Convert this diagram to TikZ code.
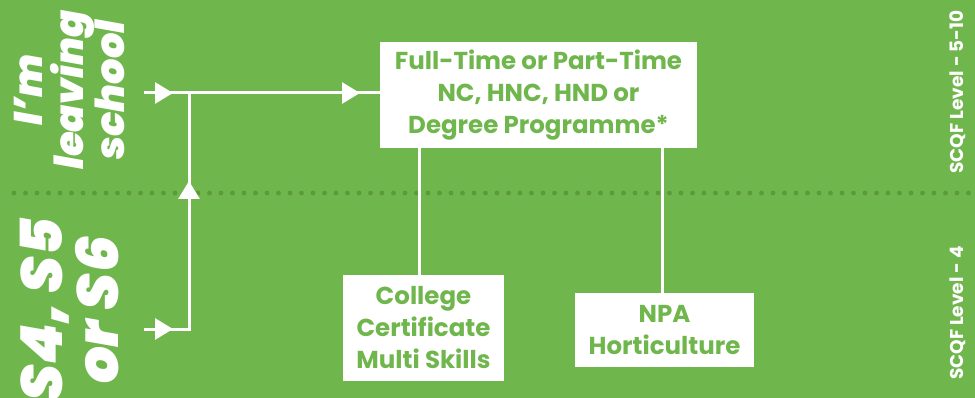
\documentclass[tikz,border=0pt]{standalone}
\usepackage{fontspec}
\setmainfont{Poppins}
\newfontfamily\heavy{Poppins}[UprightFont=* Black Italic]
\usetikzlibrary{arrows.meta}
\definecolor{bg}{HTML}{6FB64C}
\definecolor{dotc}{HTML}{5A9A3C}
\tikzset{
  conn/.style={draw=white, line width=3pt},
  tip/.style={conn, -{Triangle[length=18pt,width=21pt]}},
  box/.style={fill=white, text=bg, font=\fontsize{24.5}{32}\selectfont\bfseries, align=center, inner sep=0pt},
  bigtxt/.style={text=white, rotate=90, align=center},
  sidetxt/.style={text=white, rotate=90, font=\fontsize{18.5}{20}\selectfont\bfseries},
}
\begin{document}
\begin{tikzpicture}[x=1pt,y=-1pt]
\fill[bg] (0,0) rectangle (975,398);
\useasboundingbox (0,0) rectangle (975,398);
% dotted divider
\foreach \i in {0,...,84} { \fill[dotc] (14+\i*11.5,193) circle (2.4); }
% boxes
\node[box, minimum width=317pt, minimum height=106pt] (main) at (538.5,95) {Full-Time or Part-Time\\NC, HNC, HND or\\Degree Programme*};
\node[box, minimum width=161pt, minimum height=106pt] (col) at (423.5,328) {College\\Certificate\\Multi Skills};
\node[box, minimum width=179pt, minimum height=74pt] (npa) at (664.5,330) {NPA\\Horticulture};
% left labels
\node[bigtxt, font=\fontsize{40}{41}\selectfont\heavy] (leave) at (69,90) {I’m\\leaving\\school};
\node[bigtxt, font=\fontsize{58}{56}\selectfont\heavy] (s456) at (70,310) {S4, S5\\or S6};
% right labels
\node[sidetxt] (lv1) at (958,92) {SCQF Level - 5-10};
\node[sidetxt] (lv2) at (958,313) {SCQF Level - 4};
% connectors
\coordinate (s1) at (144,93);
\coordinate (a1) at (173,93);
\coordinate (j1) at (189,93);
\coordinate (a2) at (360,93);
\coordinate (s2) at (144,329);
\coordinate (a3) at (173,329);
\coordinate (j2) at (189,329);
\coordinate (a4) at (189,181);
\coordinate (c1) at (419,0);
\coordinate (c2) at (662,0);
\draw[conn] (s1) -- (j1) -- (main.west |- j1);
\draw[tip] (s1) -- (a1);
\draw[tip] (j1) -- (a2);
\draw[conn] (s2) -- (j2) -- (j1);
\draw[tip] (s2) -- (a3);
\draw[tip] (j2) -- (a4);
\draw[conn] (main.south -| c1) -- (col.north -| c1);
\draw[conn] (main.south -| c2) -- (npa.north -| c2);
\end{tikzpicture}
\end{document}
